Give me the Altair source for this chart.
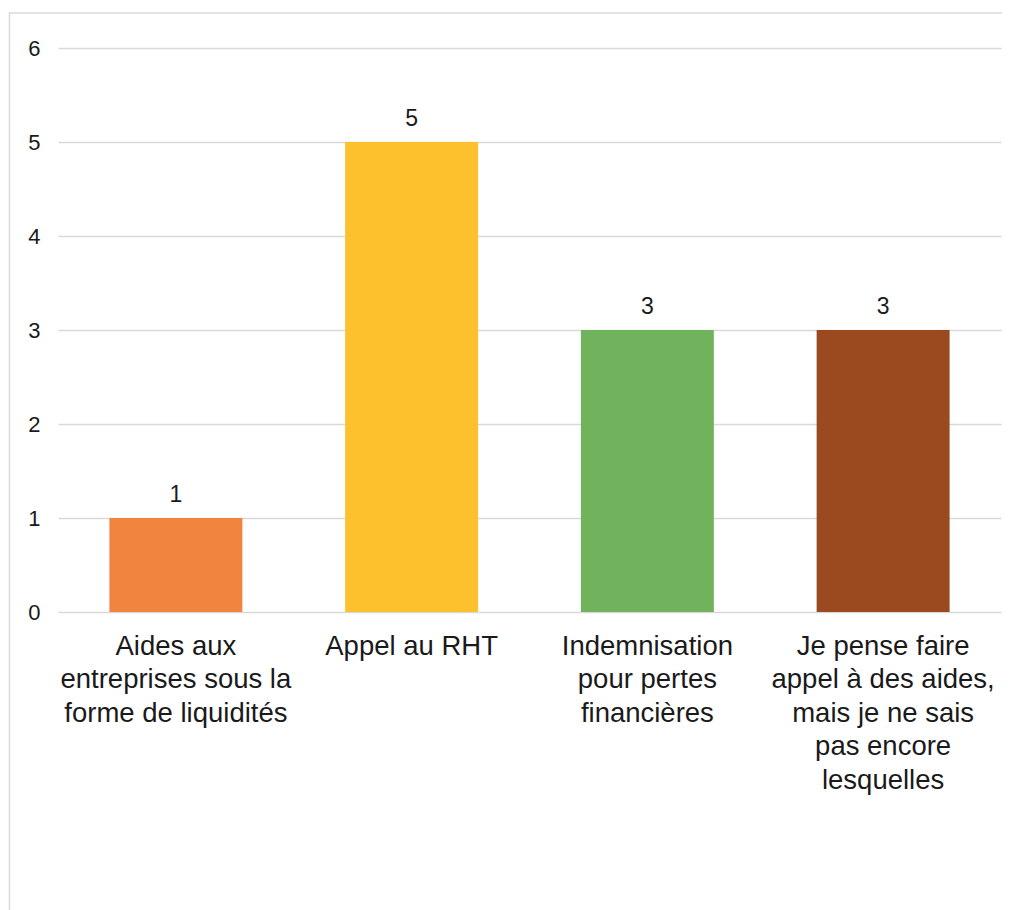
import altair as alt
import pandas as pd

categories = [
    "Aides aux|entreprises sous la|forme de liquidités",
    "Appel au RHT",
    "Indemnisation|pour pertes|financières",
    "Je pense faire|appel à des aides,|mais je ne sais|pas encore|lesquelles",
]
values = [1, 5, 3, 3]
colors = ["#F1843F", "#FCC12D", "#71B25C", "#9B4A1F"]

df = pd.DataFrame({"cat": categories, "val": values, "color": colors})

FONT = "Liberation Sans"
TXT = "#1a1a1a"

x_enc = alt.X(
    "cat:N",
    sort=categories,
    scale=alt.Scale(paddingInner=0.436, paddingOuter=0.218),
    axis=alt.Axis(
        title=None,
        labelAngle=0,
        labelExpr="split(datum.label, '|')",
        labelFontSize=27.5,
        labelLineHeight=33.5,
        labelPadding=20,
        labelLimit=0,
        labelColor=TXT,
        labelFont=FONT,
        labelBaseline="top",
        domain=False,
        ticks=False,
        grid=False,
    ),
)

bars = alt.Chart(df).mark_bar().encode(
    x=x_enc,
    y=alt.Y(
        "val:Q",
        scale=alt.Scale(domain=[0, 6], nice=False),
        axis=alt.Axis(
            title=None,
            values=[0, 1, 2, 3, 4, 5, 6],
            format="d",
            labelFontSize=22,
            labelPadding=18,
            labelColor=TXT,
            labelFont=FONT,
            domain=False,
            ticks=False,
            grid=True,
            gridColor="#d9d9d9",
            gridWidth=1.3,
        ),
    ),
    color=alt.Color("color:N", scale=None, legend=None),
)

labels = alt.Chart(df).mark_text(
    baseline="alphabetic", dy=-16, fontSize=23, font=FONT, color=TXT
).encode(
    x=alt.X("cat:N", sort=categories),
    y="val:Q",
    text="val:Q",
)

frame = alt.Chart(pd.DataFrame({"a": [0]})).mark_rect(
    fill=None, stroke="#d9d9d9", strokeWidth=1.5
).encode(
    x=alt.value(-48.5),
    x2=alt.value(980),
    y=alt.value(-35),
    y2=alt.value(920),
)

chart = (
    alt.layer(frame, bars, labels)
    .properties(
        width=943,
        height=564,
        autosize=alt.AutoSizeParams(type="none"),
        padding={"left": 50, "top": 40, "right": 1, "bottom": 320},
    )
    .configure(background="white", view=alt.ViewConfig(stroke=None))
)

chart.save("out.html", embed_options={"renderer": "svg", "actions": False})
